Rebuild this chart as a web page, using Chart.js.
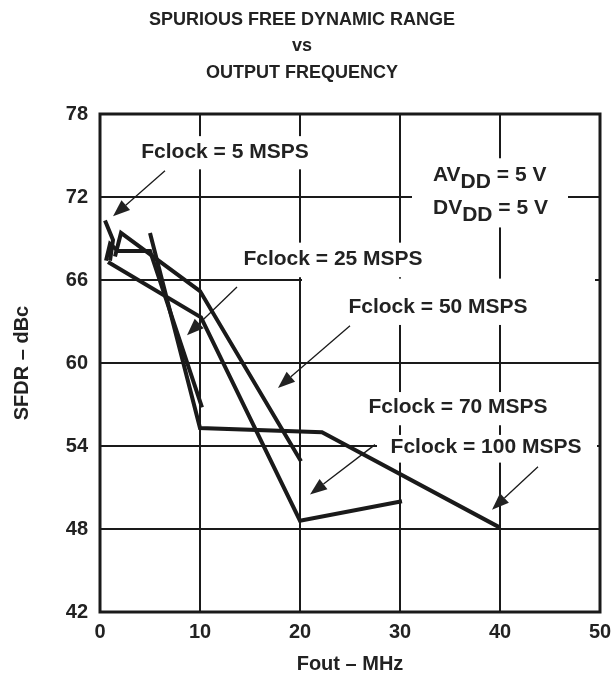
<!DOCTYPE html>
<html>
<head>
<meta charset="utf-8">
<script src="https://cdn.jsdelivr.net/npm/chart.js@4.4.0/dist/chart.umd.min.js"></script>
<style>body{margin:0;background:#fff}</style>
</head>
<body>
<canvas id="sfdrChart" width="613" height="681"></canvas>
<script>
const xTicks = [0, 10, 20, 30, 40, 50];
const yTicks = [42, 48, 54, 60, 66, 72, 78];

// Fout (MHz) / SFDR (dBc) per clock rate
const fout5 = [0.5, 1.3, 1.0];
const sfdr5 = [70.3, 68.9, 67.4];
const fout25 = [0.6, 1.0, 1.8, 5.0, 10.2];
const sfdr25 = [67.4, 68.6, 68.1, 68.1, 56.8];
const fout50 = [1.5, 2.1, 10.0, 20.1];
const sfdr50 = [67.7, 69.4, 65.2, 52.9];
const fout70 = [0.8, 10.1, 20.0, 30.2];
const sfdr70 = [67.3, 63.3, 48.6, 50.0];
const fout100 = [5.0, 10.0, 22.2, 40.0];
const sfdr100 = [69.4, 55.3, 55.0, 48.1];

const ink = '#1a1a1a';
const txt = '#222';
const face = '"Liberation Sans", Arial, sans-serif';

function pts(xs, ys) {
  return xs.map((x, i) => ({ x: x, y: ys[i] }));
}

function line(label, xs, ys) {
  return {
    label: label,
    data: pts(xs, ys),
    showLine: true,
    borderColor: ink,
    borderWidth: 4,
    borderJoinStyle: 'miter',
    pointRadius: 0,
    fill: false,
    tension: 0
  };
}

// callouts, all in data units: text centre, white patch [x0, x1, y0, y1], arrow [from x, y, to x, y]
const callouts = [
  { text: 'Fclock = 5 MSPS', at: [12.5, 75.25], box: [2.8, 21.8, 74.0, 76.4], arrow: [6.5, 73.9, 1.3, 70.6] },
  { text: 'Fclock = 25 MSPS', at: [23.3, 67.5], box: [13.6, 33.2, 66.2, 68.7], arrow: [13.7, 65.5, 8.7, 62.0] },
  { text: 'Fclock = 50 MSPS', at: [33.8, 64.0], box: [20.2, 49.5, 62.75, 66.1], arrow: [25.0, 62.7, 17.8, 58.2] },
  { text: 'Fclock = 70 MSPS', at: [35.8, 56.8], box: [26.0, 49.8, 55.5, 57.9], arrow: [27.5, 54.1, 21.0, 50.5] },
  { text: 'Fclock = 100 MSPS', at: [38.6, 53.9], box: [27.7, 49.7, 52.8, 54.8], arrow: [43.8, 52.5, 39.2, 49.4] }
];
const supplyBox = [31.2, 46.8, 69.8, 74.8];
const supplyAt = [33.3, 73.6, 71.2];

function arrow(ctx, x0, y0, x1, y1) {
  const a = Math.atan2(y1 - y0, x1 - x0);
  const len = 17, half = 6.5;
  const bx = x1 - len * Math.cos(a), by = y1 - len * Math.sin(a);
  ctx.lineWidth = 1.3;
  ctx.beginPath();
  ctx.moveTo(x0, y0);
  ctx.lineTo(bx, by);
  ctx.stroke();
  ctx.beginPath();
  ctx.moveTo(x1, y1);
  ctx.lineTo(bx - half * Math.sin(a), by + half * Math.cos(a));
  ctx.lineTo(bx + half * Math.sin(a), by - half * Math.cos(a));
  ctx.closePath();
  ctx.fill();
}

const notes = {
  id: 'notes',
  beforeDatasetsDraw(chart) {
    const { ctx, chartArea: c, scales: { x, y } } = chart;
    ctx.save();
    ctx.fillStyle = '#fff';
    const patch = b => {
      const l = x.getPixelForValue(b[0]), r = x.getPixelForValue(b[1]);
      const t = y.getPixelForValue(b[3]), btm = y.getPixelForValue(b[2]);
      ctx.fillRect(l, t, r - l, btm - t);
    };
    callouts.forEach(n => patch(n.box));
    patch(supplyBox);
    ctx.strokeStyle = ink;
    ctx.lineWidth = 3;
    ctx.strokeRect(c.left, c.top, c.right - c.left, c.bottom - c.top);
    ctx.restore();
  },
  afterDatasetsDraw(chart) {
    const { ctx, scales: { x, y } } = chart;
    ctx.save();
    ctx.fillStyle = txt;
    ctx.strokeStyle = ink;
    ctx.font = 'bold 21px ' + face;
    ctx.textAlign = 'center';
    ctx.textBaseline = 'middle';
    callouts.forEach(n => {
      ctx.fillText(n.text, x.getPixelForValue(n.at[0]), y.getPixelForValue(n.at[1]));
      const a = n.arrow;
      arrow(ctx, x.getPixelForValue(a[0]), y.getPixelForValue(a[1]),
        x.getPixelForValue(a[2]), y.getPixelForValue(a[3]));
    });
    // AVDD / DVDD with subscripts
    ctx.textAlign = 'left';
    [['AV', supplyAt[1]], ['DV', supplyAt[2]]].forEach(([head, v]) => {
      let px = x.getPixelForValue(supplyAt[0]);
      const py = y.getPixelForValue(v);
      ctx.fillText(head, px, py);
      px += ctx.measureText(head).width;
      ctx.fillText('DD', px, py + 7);
      px += ctx.measureText('DD').width;
      ctx.fillText(' = 5 V', px, py);
    });
    ctx.restore();
  },
  afterDraw(chart) {
    const ctx = chart.ctx;
    ctx.save();
    ctx.fillStyle = txt;
    ctx.font = 'bold 18px ' + face;
    ctx.textAlign = 'center';
    ctx.textBaseline = 'middle';
    ctx.fillText('SPURIOUS FREE DYNAMIC RANGE', 302, 20);
    ctx.fillText('vs', 302, 46);
    ctx.fillText('OUTPUT FREQUENCY', 302, 73);
    ctx.restore();
  }
};

const tickFont = { family: face, size: 20, weight: 'bold' };
const titleFont = { family: face, size: 20, weight: 'bold' };

new Chart(document.getElementById('sfdrChart'), {
  type: 'scatter',
  data: {
    datasets: [
      line('Fclock = 5 MSPS', fout5, sfdr5),
      line('Fclock = 25 MSPS', fout25, sfdr25),
      line('Fclock = 50 MSPS', fout50, sfdr50),
      line('Fclock = 70 MSPS', fout70, sfdr70),
      line('Fclock = 100 MSPS', fout100, sfdr100)
    ]
  },
  options: {
    responsive: false,
    animation: false,
    devicePixelRatio: 1,
    layout: { padding: { top: 114, right: 13, left: 0, bottom: 0 } },
    plugins: {
      legend: { display: false },
      tooltip: { enabled: false }
    },
    scales: {
      x: {
        type: 'linear',
        min: 0,
        max: 50,
        afterBuildTicks: s => { s.ticks = xTicks.map(v => ({ value: v })); },
        afterFit: s => { s.height = 69; s.paddingLeft = 0; s.paddingRight = 0; },
        grid: { color: ink, lineWidth: 2, drawTicks: false },
        border: { display: false },
        ticks: { color: txt, font: tickFont, padding: 8 },
        title: { display: true, text: 'Fout – MHz', color: txt, font: titleFont, padding: { top: 0, bottom: 5 } }
      },
      y: {
        type: 'linear',
        min: 42,
        max: 78,
        afterBuildTicks: s => { s.ticks = yTicks.map(v => ({ value: v })); },
        afterFit: s => { s.width = 100; s.paddingTop = 0; s.paddingBottom = 0; },
        grid: { color: ink, lineWidth: 2, drawTicks: false },
        border: { display: false },
        ticks: { color: txt, font: tickFont, padding: 12 },
        title: { display: true, text: 'SFDR – dBc', color: txt, font: titleFont, padding: { top: 10, bottom: 0 } }
      }
    }
  },
  plugins: [notes]
});
</script>
</body>
</html>
